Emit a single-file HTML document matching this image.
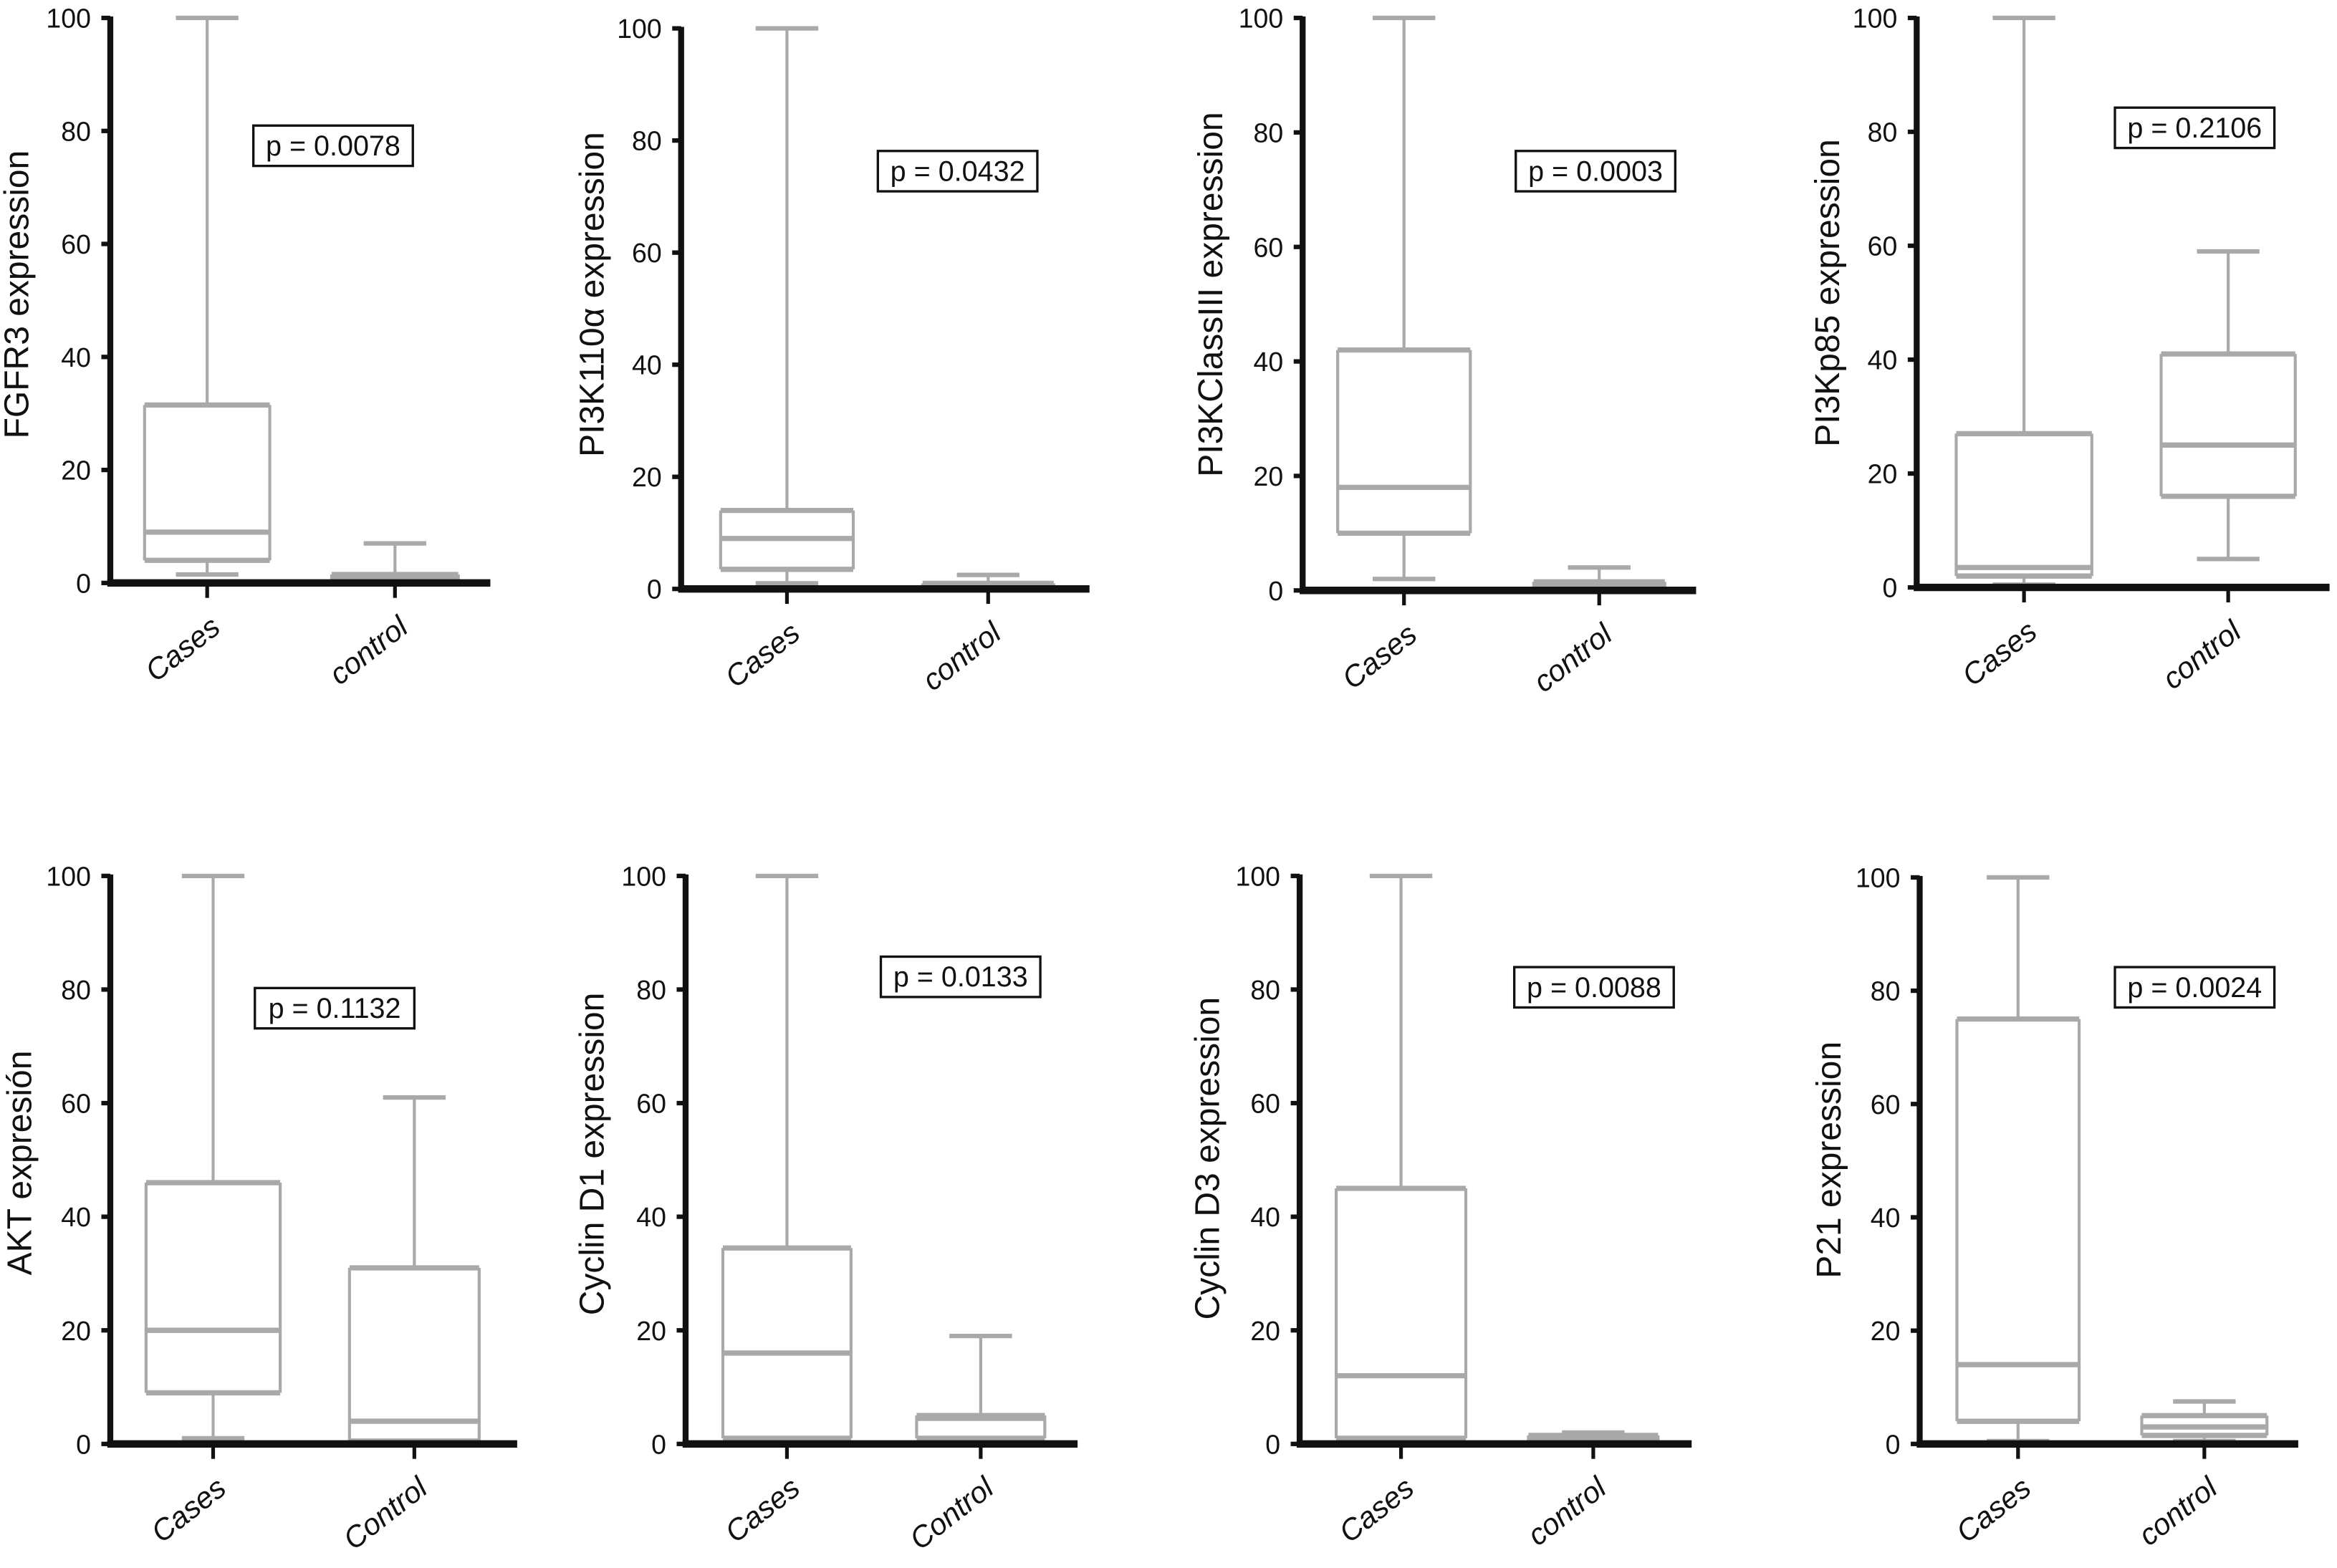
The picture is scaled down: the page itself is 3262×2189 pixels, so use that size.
<!DOCTYPE html>
<html><head><meta charset="utf-8"><style>html,body{margin:0;padding:0;background:#fff}svg{display:block}</style></head>
<body>
<svg id="fig" width="3262" height="2189" viewBox="0 0 1568 1049" preserveAspectRatio="none" xmlns="http://www.w3.org/2000/svg" font-family="Liberation Sans, sans-serif"></svg>
<script>
const yTicks = [0, 20, 40, 60, 80, 100];
const yLabels = ["FGFR3 expression","PI3K110α expression","PI3KClassIII expression","PI3Kp85 expression","AKT expresión","Cyclin D1 expression","Cyclin D3 expression","P21 expression"];
const pValues = ["p = 0.0078","p = 0.0432","p = 0.0003","p = 0.2106","p = 0.1132","p = 0.0133","p = 0.0088","p = 0.0024"];
const catNames = [["Cases","control"],["Cases","control"],["Cases","control"],["Cases","control"],["Cases","Control"],["Cases","Control"],["Cases","control"],["Cases","control"]];
// [min, q1, median, q3, max]
const casesStats = [[1.5,4,9,31.5,100],[1,3.5,9,14,100],[2,10,18,42,100],[0.5,2,3.5,27,100],[1,9,20,46,100],[0.5,1,16,34.5,100],[1,1,12,45,100],[0.5,4,14,75,100]];
const controlStats = [[0,0.5,1,1.5,7],[0,0.2,0.5,1,2.5],[0,0.3,1,1.5,4],[5,16,25,41,59],[0,0.5,4,31,61],[0,1,4.5,5,19],[0,0.5,1,1.5,2],[0.5,1.5,3,5,7.5]];

// layout (display units)
const panels = [
 {ax:74,top:12,zero:390,end:329,cx:[139,265],bw:[84,85],p:[170,84],lx:19,ly:197},
 {ax:457,top:19,zero:394,end:731,cx:[528,663],bw:[89,88],p:[589,101],lx:405,ly:197},
 {ax:874,top:12,zero:395,end:1138,cx:[942,1073],bw:[89,88],p:[1017,101],lx:820,ly:197},
 {ax:1286,top:12,zero:393,end:1563,cx:[1358,1495],bw:[91,90],p:[1419,72],lx:1234,ly:196},
 {ax:74,top:586,zero:966,end:347,cx:[143,278],bw:[90,87],p:[171,661],lx:21,ly:778},
 {ax:460,top:586,zero:966,end:723,cx:[528,658],bw:[86,86],p:[591,640],lx:405,ly:772},
 {ax:872,top:586,zero:966,end:1135,cx:[940,1069],bw:[87,87],p:[1016,647],lx:818,ly:775},
 {ax:1288,top:587,zero:966,end:1542,cx:[1354,1479],bw:[82,84],p:[1419,647],lx:1235,ly:776}
];
const svg = document.getElementById('fig');
const NS = 'http://www.w3.org/2000/svg';
function mk(tag, attrs, parent){const e=document.createElementNS(NS,tag);for(const k in attrs)e.setAttribute(k,attrs[k]);(parent||svg).appendChild(e);return e;}
const GRAY='#a9a9a9';
const CAP=42;
panels.forEach((P,i)=>{
  const g = mk('g',{});
  
  
  const y = v => P.zero - (v/100)*(P.zero-P.top);
  const ya = mk('line',{x1:P.ax,y1:P.top-1,x2:P.ax,y2:P.zero,stroke:'#111','stroke-width':4},g);
  
  
  yTicks.forEach(t=>{
    mk('line',{x1:P.ax-6,y1:y(t),x2:P.ax,y2:y(t),stroke:'#111','stroke-width':3},g);
    const tl = mk('text',{x:P.ax-13,y:y(t)+6.5,'text-anchor':'end','font-size':18,fill:'#111'},g);
    tl.textContent=t;
    
    
  });
  const yl = mk('text',{x:0,y:0,'text-anchor':'middle','font-size':23,fill:'#111',transform:`translate(${P.lx},${P.ly}) rotate(-90)`},g);
  yl.textContent=yLabels[i];
  
  
  [casesStats[i],controlStats[i]].forEach((s,j)=>{
    const cx=P.cx[j], bw=P.bw[j];
    const bg = mk('g',{},g);
    
    
    mk('line',{x1:cx,y1:y(s[4]),x2:cx,y2:y(s[3]),stroke:GRAY,'stroke-width':2},bg);
    mk('line',{x1:cx,y1:y(s[1]),x2:cx,y2:y(s[0]),stroke:GRAY,'stroke-width':2},bg);
    mk('line',{x1:cx-CAP/2,y1:y(s[4]),x2:cx+CAP/2,y2:y(s[4]),stroke:GRAY,'stroke-width':3},bg);
    mk('line',{x1:cx-CAP/2,y1:y(s[0]),x2:cx+CAP/2,y2:y(s[0]),stroke:GRAY,'stroke-width':3},bg);
    mk('line',{x1:cx-bw/2,y1:y(s[3]),x2:cx-bw/2,y2:y(s[1]),stroke:GRAY,'stroke-width':2},bg);
    mk('line',{x1:cx+bw/2,y1:y(s[3]),x2:cx+bw/2,y2:y(s[1]),stroke:GRAY,'stroke-width':2},bg);
    mk('line',{x1:cx-bw/2,y1:y(s[3]),x2:cx+bw/2,y2:y(s[3]),stroke:GRAY,'stroke-width':3.5},bg);
    mk('line',{x1:cx-bw/2,y1:y(s[1]),x2:cx+bw/2,y2:y(s[1]),stroke:GRAY,'stroke-width':3.5},bg);
    mk('line',{x1:cx-bw/2,y1:y(s[2]),x2:cx+bw/2,y2:y(s[2]),stroke:GRAY,'stroke-width':3.5},bg);
    mk('line',{x1:cx,y1:P.zero,x2:cx,y2:P.zero+10,stroke:'#111','stroke-width':2.5},g);
    const xl = mk('text',{x:0,y:0,'text-anchor':'end','font-size':20,'font-style':'italic',fill:'#111',transform:`translate(${cx+10},${P.zero+32}) rotate(-38)`},g);
    xl.textContent=catNames[i][j];
    
    
  });
  const xa = mk('line',{x1:P.ax-2,y1:P.zero,x2:P.end,y2:P.zero,stroke:'#111','stroke-width':5},g);
  
  
  const pb = mk('g',{},g);
  
  
  mk('rect',{x:P.p[0],y:P.p[1],width:107,height:27,fill:'#fff',stroke:'#111','stroke-width':1.6},pb);
  const pt = mk('text',{x:P.p[0]+53.5,y:P.p[1]+20,'text-anchor':'middle','font-size':19,fill:'#111'},pb);
  pt.textContent=pValues[i];
});
</script>
</body></html>
